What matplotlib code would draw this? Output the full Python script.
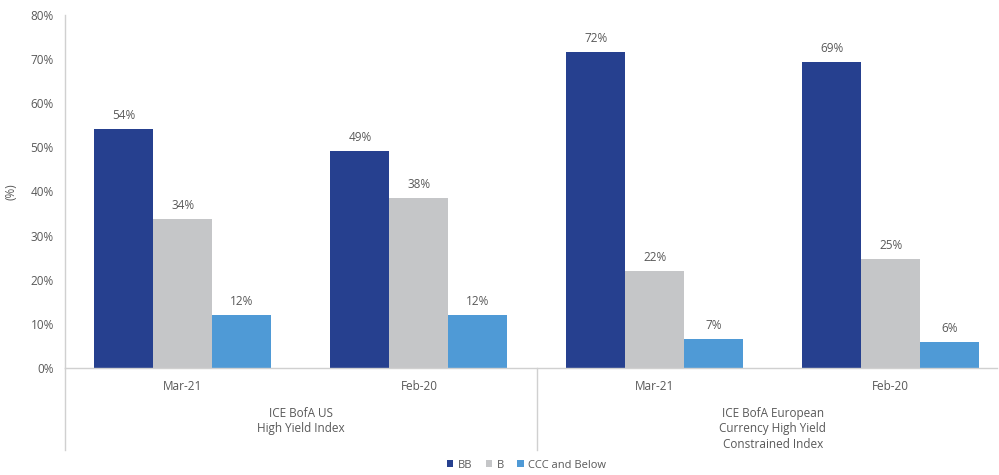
import matplotlib.pyplot as plt
import numpy as np

plt.rcParams['font.family'] = ['Open Sans', 'DejaVu Sans']

# 数据
dates = ['Mar-21', 'Feb-20', 'Mar-21', 'Feb-20']
groups = ['ICE BofA US\nHigh Yield Index',
          'ICE BofA European\nCurrency High Yield\nConstrained Index']
series = ['BB', 'B', 'CCC and Below']
bb = [54.2, 49.2, 71.7, 69.4]
b = [33.8, 38.5, 22.0, 24.6]
ccc = [12.0, 12.0, 6.6, 5.9]
colors = ['#26408F', '#C5C6C8', '#4F9AD6']
yticks = [0, 10, 20, 30, 40, 50, 60, 70, 80]

txt = '#595959'
line = '#D0D0D0'

fig = plt.figure(figsize=(9.99, 4.75), dpi=100)
ax = fig.add_axes([65 / 999, 1 - 368 / 475, (997 - 65) / 999, (368 - 15) / 475])

x = np.arange(len(dates))
w = 0.25
for k, (vals, c, name) in enumerate(zip([bb, b, ccc], colors, series)):
    pos = x + (k - 1) * w
    ax.bar(pos, vals, w, color=c, label=name)
    for p, v in zip(pos, vals):
        ax.text(p, v + 1.6, '%.0f%%' % v, ha='center', va='bottom',
                fontsize=8.5, color=txt)

ax.set_xlim(-0.5, 3.45)
ax.set_ylim(0, 80)
ax.set_yticks(yticks)
ax.set_yticklabels(['%d%%' % t for t in yticks], fontsize=8.5, color=txt)
ax.set_xticks(x)
ax.set_xticklabels(dates, fontsize=8.5, color=txt)
ax.tick_params(length=0, pad=8)
ax.tick_params(axis='x', pad=9)
ax.set_ylabel('(%)', fontsize=8.5, color=txt)
ax.yaxis.set_label_coords(-0.051, 0.5)

for s in ['top', 'right']:
    ax.spines[s].set_visible(False)
for s in ['left', 'bottom']:
    ax.spines[s].set_color(line)
    ax.spines[s].set_linewidth(1)

# 分组标签与分隔线
trans = ax.get_xaxis_transform()
ax.plot([-0.5, -0.5], [0, -0.232], color=line, lw=1, transform=trans, clip_on=False)
ax.plot([1.5, 1.5], [0, -0.232], color=line, lw=1, transform=trans, clip_on=False)
ax.text(0.5, -0.11, groups[0], ha='center', va='top', fontsize=8.5,
        color=txt, transform=trans, linespacing=1.25)
ax.text(2.5, -0.11, groups[1], ha='center', va='top', fontsize=8.5,
        color=txt, transform=trans, linespacing=1.25)

fig.legend(loc='lower center', bbox_to_anchor=(0.527, -0.012), ncol=3,
           frameon=False, fontsize=8, labelcolor=txt, handlelength=0.6,
           handleheight=0.6, handletextpad=0.4, columnspacing=1.2)

fig.savefig('out.png', dpi=100)
